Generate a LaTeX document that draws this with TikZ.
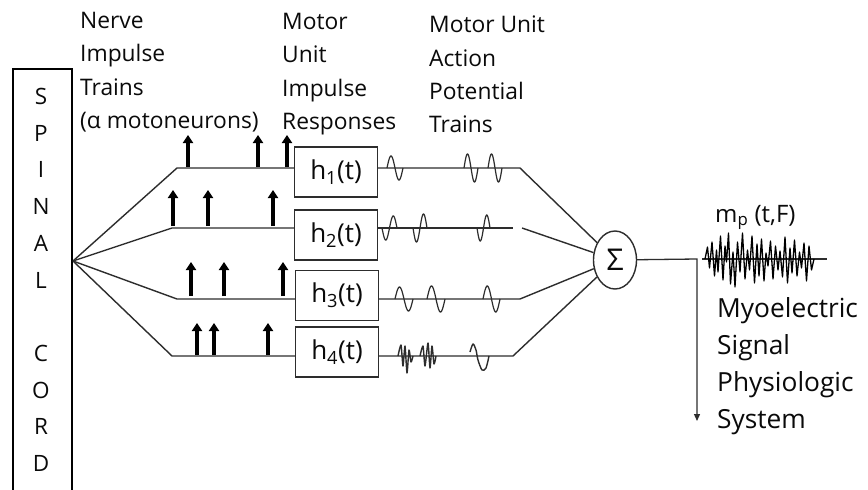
\documentclass[tikz,border=0pt]{standalone}
\usepackage{fontspec}
\setmainfont{Open Sans}
\usetikzlibrary{arrows.meta,shapes.geometric}
\definecolor{lc}{RGB}{45,45,45}
\definecolor{tc}{RGB}{10,10,10}
\newcommand{\wavelet}[5]{\draw[wvs] plot[domain=0:1,samples=31,smooth] ({#1+#3*\x},{#2-#4*sin(#5*360*\x)});}
\begin{document}
\begin{tikzpicture}[x=1pt,y=-1pt,
  ln/.style={draw=lc, line width=1.4pt},
  wvs/.style={draw=lc, line width=1.2pt},
  imp/.style={draw=black, line width=3.2pt, -{Triangle[length=8pt,width=10pt]}},
  hd/.style={anchor=base west, inner sep=0pt, text=tc, font=\fontsize{22.8}{27}\selectfont},
  rt/.style={anchor=base west, inner sep=0pt, text=tc, font=\fontsize{26.3}{30}\selectfont},
  lt/.style={anchor=base, inner sep=0pt, text=tc, font=\fontsize{22.5}{27}\selectfont},
  hbox/.style={draw=lc, line width=1.4pt, minimum width=83pt, minimum height=50pt, inner sep=0pt, text=tc, font=\fontsize{26}{30}\selectfont},
  sumnode/.style={ellipse, draw=lc, line width=1.4pt, minimum width=43pt, minimum height=58pt, inner sep=0pt, text=tc, font=\fontsize{30}{30}\selectfont}
]
\useasboundingbox (0,0) rectangle (868,490);
\fill[white] (0,0) rectangle (868,490);

% spinal cord
\draw[black, line width=2.6pt] (13,495) -- (13,69) -- (72,69) -- (72,495);
\foreach \l/\yy [count=\i] in {S/104.5,P/141.2,I/177.9,N/214.6,A/251.3,L/288,C/361.4,O/398.1,R/434.8,D/471.5}
  \node[lt] (sc\i) at (41,\yy) {\l};

% headers
\node[hd] (a1) at (80,28) {Nerve};
\node[hd] (a2) at (80,61.5) {Impulse};
\node[hd] (a3) at (80,95) {Trains};
\node[hd] (a4) at (80,128.5) {(α motoneurons)};
\node[hd] (b1) at (282,29) {Motor};
\node[hd] (b2) at (282,62.5) {Unit};
\node[hd] (b3) at (282,96) {Impulse};
\node[hd] (b4) at (282,129.5) {Responses};
\node[hd] (c1) at (429,32.5) {Motor Unit};
\node[hd] (c2) at (429,66) {Action};
\node[hd] (c3) at (429,99) {Potential};
\node[hd] (c4) at (429,132.5) {Trains};

% boxes
\node[hbox] (h1) at (336,172) {h\textsubscript{1}(t)};
\node[hbox] (h2) at (336,235) {h\textsubscript{2}(t)};
\node[hbox] (h3) at (337,295.5) {h\textsubscript{3}(t)};
\node[hbox] (h4) at (337,352) {h\textsubscript{4}(t)};
\node[sumnode] (sig) at (615,260) {Σ};

% coordinates
\coordinate (fan) at (73,261);
\coordinate (s1) at (177,168);
\coordinate (s2) at (172,228);
\coordinate (s3) at (177,299);
\coordinate (s4) at (172,356);
\coordinate (e1) at (520,168);
\coordinate (e2) at (513,228);
\coordinate (f2) at (522,228);
\coordinate (e3) at (520,299);
\coordinate (e4) at (513,356);
\coordinate (o1) at (697,259);
\coordinate (o2) at (697,421);
\coordinate (m1) at (702,259);
\coordinate (m2) at (827,259);

% fan lines
\draw[ln] (fan) -- (s1) -- (s1 -| h1.west);
\draw[ln] (fan) -- (s2) -- (s2 -| h2.west);
\draw[ln] (fan) -- (s3) -- (s3 -| h3.west);
\draw[ln] (fan) -- (s4) -- (s4 -| h4.west);

% outputs of boxes
\draw[ln] (h1.east |- s1) -- (e1) -- (sig);
\draw[ln] (h2.east |- s2) -- (e2);
\draw[ln] (f2) -- (sig);
\draw[ln] (h3.east |- s3) -- (e3) -- (sig);
\draw[ln] (h4.east |- s4) -- (e4) -- (sig);

% sum output
\draw[draw=lc, line width=1.3pt, -{Triangle[length=7pt,width=6pt]}] (sig) -- (o1) -- (o2);
\draw[ln] (m1) -- (m2);

% impulses
\foreach \xx in {188,258,287} \draw[imp] (\xx,167) -- (\xx,135);
\foreach \xx in {173,208,273} \draw[imp] (\xx,226) -- (\xx,190);
\foreach \xx in {191,224,283} \draw[imp] (\xx,296) -- (\xx,262);
\foreach \xx in {197,214,268} \draw[imp] (\xx,355) -- (\xx,323);

% wavelets
\wavelet{387}{168}{16}{12}{1}
\wavelet{464}{168}{14}{14}{1}
\wavelet{488}{168}{14}{14}{1}
\wavelet{382}{228}{15}{-12}{1}
\wavelet{413}{228}{14}{-14}{1}
\wavelet{477}{228}{13}{-13}{1}
\wavelet{395}{299}{18}{12}{1}
\wavelet{427}{299}{18}{13}{1}
\wavelet{483}{299}{17}{13}{1}
\draw[wvs, line width=1.4pt, line join=round] plot[smooth, tension=0.4] coordinates {(398,356) (401,345) (403,366) (405,346) (407,373) (409,350) (411,362) (413,356)};
\draw[wvs, line width=1.4pt, line join=round] plot[smooth, tension=0.4] coordinates {(420,356) (423,346) (425,366) (428,343) (430,368) (432,346) (434,364) (436,356)};
\draw[wvs, line width=1.4pt, line join=round] plot[smooth, tension=0.5] coordinates {(470,352) (473,344) (476,350) (478,360) (482,370) (486,368) (489,356)};

% noise signal
\draw[draw=black, line width=1.3pt, line join=round] plot coordinates {
(705,259) (707.5,247) (709.5,268) (712,242) (714.5,276) (716.5,250) (718,272) (720.5,236)
(723,280) (725,246) (726.5,262) (728.5,233) (730.5,284) (733,252) (735,287) (737.5,242)
(740,272) (742.5,233) (745,279) (747.5,250) (749.5,270) (752,236) (754.5,283) (757,244)
(759,276) (761.5,239) (764,281) (766,253) (768,266) (770.5,241) (773,279) (775.5,246)
(778,270) (780,251) (782.5,277) (785,237) (787.5,283) (790,248) (792,273) (794.5,240)
(797,276) (799.5,252) (801.5,268) (804,243) (806.5,281) (809,246) (811.5,270) (814,259)};

% right texts
\node[rt, font=\fontsize{24}{28}\selectfont] (mp) at (715,222) {m\textsubscript{p} (t,F)};
\node[rt] (r1) at (717,317) {Myoelectric};
\node[rt] (r2) at (717,354) {Signal};
\node[rt] (r3) at (717,391) {Physiologic};
\node[rt] (r4) at (717,428) {System};
\end{tikzpicture}
\end{document}
